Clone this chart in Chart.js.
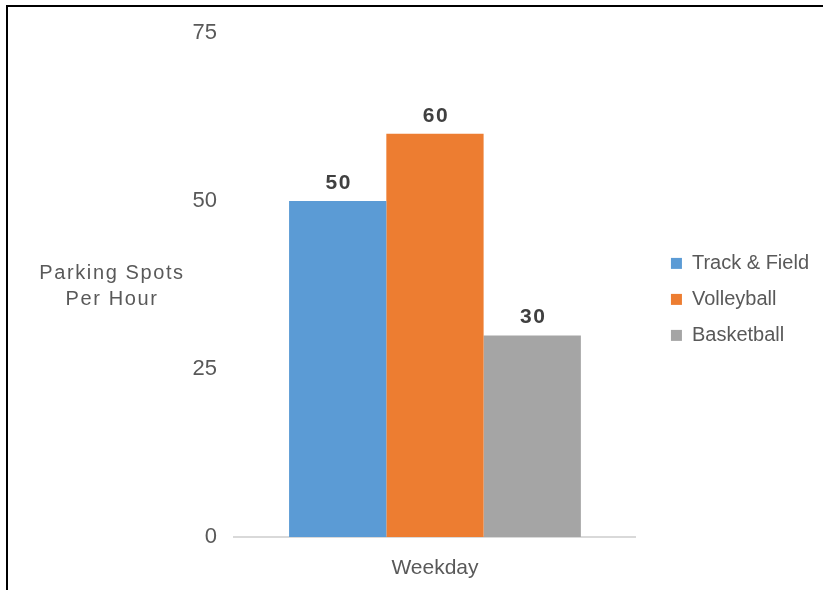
<!DOCTYPE html>
<html>
<head>
<meta charset="utf-8">
<script src="https://cdn.jsdelivr.net/npm/chart.js@4.4.1/dist/chart.umd.min.js"></script>
<style>
  html, body { margin: 0; padding: 0; background: #fff; }
  #wrap { position: relative; width: 823px; height: 590px; overflow: hidden; }
  #frame { position: absolute; left: 6px; top: 5px; right: -10px; bottom: -10px; border-left: 2px solid #000; border-top: 2px solid #000; pointer-events: none; }
  #ytitle { position: absolute; left: 12px; width: 200px; top: 259px; text-align: center; font: 20px "Liberation Sans", Arial, sans-serif; color: #595959; letter-spacing: 1.6px; line-height: 26px; }
  canvas { position: absolute; left: 0; top: 0; }
</style>
</head>
<body>
<div id="wrap">
  <canvas id="chart" width="823" height="590"></canvas>
  <div id="ytitle">Parking Spots<br>Per Hour</div>
  <div id="frame"></div>
</div>
<script>
const categories = ['Weekday'];
const seriesNames = ['Track & Field', 'Volleyball', 'Basketball'];
const trackField = [50];
const volleyball = [60];
const basketball = [30];
const yTicks = [0, 25, 50, 75];

const colors = ['#5B9BD5', '#ED7D31', '#A5A5A5'];

Chart.defaults.font.family = '"Liberation Sans", Arial, sans-serif';
Chart.defaults.color = '#595959';

// value labels above each bar
const barLabels = {
    id: 'barLabels',
    afterDatasetsDraw(chart) {
        const ctx = chart.ctx;
        ctx.save();
        ctx.font = 'bold 21px "Liberation Sans", Arial, sans-serif';
        ctx.fillStyle = '#404040';
        ctx.textAlign = 'center';
        ctx.textBaseline = 'alphabetic';
        ctx.letterSpacing = '1.5px';
        chart.data.datasets.forEach((ds, i) => {
            chart.getDatasetMeta(i).data.forEach((bar, j) => {
                ctx.fillText(String(ds.data[j]), bar.x + 1, bar.y - 12);
            });
        });
        ctx.restore();
    }
};

new Chart(document.getElementById('chart'), {
    type: 'bar',
    data: {
        labels: categories,
        datasets: [trackField, volleyball, basketball].map((d, i) => ({
            label: seriesNames[i],
            data: d,
            backgroundColor: colors[i],
            borderWidth: 0,
            categoryPercentage: 0.726,
            barPercentage: 1
        }))
    },
    options: {
        responsive: false,
        animation: false,
        layout: { padding: { top: 33, left: 0, right: 4, bottom: 0 } },
        plugins: {
            tooltip: { enabled: false },
            legend: {
                position: 'right',
                align: 'center',
                fullSize: false,
                maxWidth: 220,
                // empty title only nudges the items down to where they sit in the original
                title: { display: true, text: '', padding: 0, font: { size: 24 } },
                labels: { boxWidth: 11, boxHeight: 11, padding: 16, color: '#595959', font: { size: 20 } }
            }
        },
        scales: {
            x: {
                grid: { display: false, drawTicks: false },
                border: { display: true, color: '#d9d9d9', width: 2 },
                ticks: { color: '#595959', font: { size: 21 }, padding: 19 },
                afterFit: s => { s.height = 53; }
            },
            y: {
                min: 0,
                max: 75,
                afterBuildTicks: s => { s.ticks = yTicks.map(v => ({ value: v })); },
                grid: { display: false, drawTicks: false },
                border: { display: false },
                ticks: { color: '#595959', font: { size: 22 }, padding: 17 },
                afterFit: s => { s.width = 234; }
            },
            gap: {
                type: 'linear',
                position: 'right',
                grid: { display: false, drawTicks: false },
                border: { display: false },
                ticks: { display: false },
                afterFit: s => { s.width = 19; }
            }
        }
    },
    plugins: [barLabels]
});
</script>
</body>
</html>
